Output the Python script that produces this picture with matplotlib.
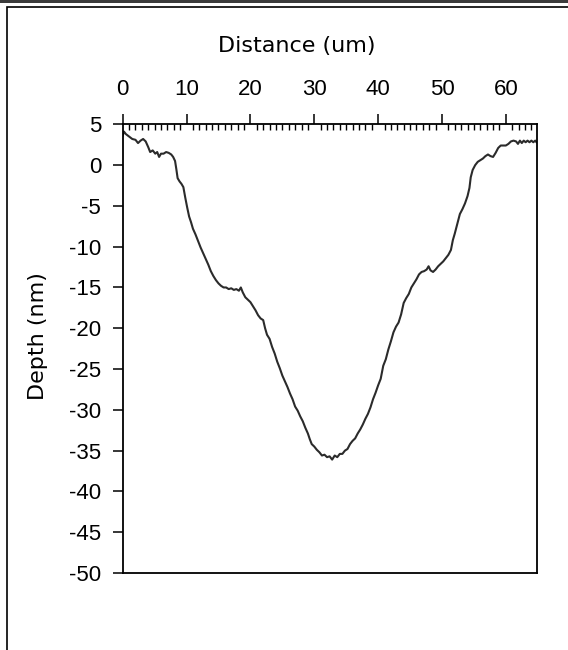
import matplotlib
matplotlib.use("Agg")
import matplotlib.pyplot as plt
from matplotlib.ticker import MultipleLocator
from matplotlib.patches import Rectangle

distance_um = [
    0.0, 0.2, 0.5, 1.0, 1.5, 2.0, 2.4, 2.8, 3.2, 3.6, 4.0, 4.3, 4.7, 5.1, 5.4, 5.7,
    6.0, 6.4, 6.8, 7.2, 7.6, 7.9, 8.2, 8.4, 8.6, 8.9, 9.2, 9.5, 9.8, 10.1, 10.4,
    10.7, 11.0, 11.4, 11.8, 12.2, 12.6, 13.0, 13.4, 13.8, 14.2, 14.6, 15.0, 15.4,
    15.8, 16.2, 16.6, 17.0, 17.4, 17.8, 18.2, 18.5, 18.8, 19.2, 19.6, 20.0, 20.4,
    20.8, 21.2, 21.6, 22.0, 22.3, 22.6, 23.0, 23.4, 23.8, 24.2, 24.6, 25.0, 25.4,
    25.8, 26.2, 26.6, 27.0, 27.4, 27.8, 28.2, 28.6, 29.0, 29.3, 29.6, 30.0, 30.4,
    30.8, 31.2, 31.6, 32.0, 32.4, 32.8, 33.2, 33.6, 34.0, 34.4, 34.8, 35.2, 35.6,
    36.0, 36.4, 36.8, 37.2, 37.6, 38.0, 38.4, 38.8, 39.2, 39.6, 40.0, 40.4, 40.8,
    41.2, 41.6, 42.0, 42.4, 42.8, 43.2, 43.6, 44.0, 44.4, 44.8, 45.2, 45.6, 46.0,
    46.4, 46.8, 47.2, 47.6, 47.9, 48.2, 48.6, 49.0, 49.4, 49.8, 50.2, 50.6, 51.0,
    51.4, 51.7, 52.0, 52.4, 52.8, 53.2, 53.6, 54.0, 54.3, 54.5, 54.8, 55.2, 55.6,
    56.0, 56.4, 56.8, 57.2, 57.6, 58.0, 58.4, 58.8, 59.2, 59.6, 60.0, 60.4, 60.8,
    61.2, 61.6, 61.9, 62.2, 62.5, 62.8, 63.1, 63.4, 63.7, 64.0, 64.3, 64.6, 64.8,
]
depth_nm = [
    3.6, 4.1, 3.8, 3.5, 3.2, 3.1, 2.7, 3.0, 3.2, 2.9, 2.2, 1.6, 1.8, 1.4, 1.6, 1.0,
    1.4, 1.4, 1.6, 1.5, 1.3, 1.0, 0.5, -0.5, -1.6, -2.0, -2.3, -2.7, -4.0, -5.2, -6.3,
    -7.0, -7.8, -8.5, -9.3, -10.1, -10.8, -11.5, -12.2, -13.0, -13.6, -14.1, -14.5, -14.8,
    -15.0, -15.0, -15.2, -15.1, -15.3, -15.2, -15.4, -15.0, -15.6, -16.2, -16.5, -16.8, -17.3,
    -17.8, -18.4, -18.8, -19.0, -20.0, -20.8, -21.3, -22.3, -23.1, -24.1, -24.9, -25.8, -26.5,
    -27.2, -28.0, -28.7, -29.6, -30.1, -30.8, -31.4, -32.2, -32.9, -33.6, -34.2, -34.5, -34.9,
    -35.2, -35.6, -35.5, -35.8, -35.7, -36.1, -35.6, -35.8, -35.4, -35.4, -35.0, -34.8, -34.2,
    -33.8, -33.5, -32.9, -32.4, -31.8, -31.1, -30.5, -29.7, -28.7, -27.9, -27.0, -26.2, -24.6,
    -23.8, -22.6, -21.6, -20.5, -19.8, -19.3, -18.3, -16.9, -16.3, -15.8, -15.0, -14.5, -14.0,
    -13.4, -13.1, -13.0, -12.8, -12.4, -12.9, -13.1, -12.8, -12.4, -12.1, -11.8, -11.4, -11.0,
    -10.4, -9.2, -8.4, -7.2, -6.0, -5.4, -4.7, -3.8, -2.8, -1.5, -0.6, 0.0, 0.4,
    0.6, 0.8, 1.1, 1.3, 1.1, 1.0, 1.5, 2.1, 2.4, 2.4, 2.4, 2.6, 2.9,
    3.0, 2.9, 2.6, 3.0, 2.7, 3.0, 2.8, 3.0, 2.8, 3.0, 2.8, 3.0, 2.8,
]
x_ticks = [0, 10, 20, 30, 40, 50, 60]
y_ticks = [5, 0, -5, -10, -15, -20, -25, -30, -35, -40, -45, -50]
x_label = "Distance (um)"
y_label = "Depth (nm)"

plt.rcParams["font.family"] = ["Liberation Sans", "DejaVu Sans"]

fig = plt.figure(figsize=(5.68, 6.5), dpi=100)
fig.patch.set_facecolor("white")

# outer frame and dark strip at top
fig.patches.append(Rectangle((6.5 / 568, -0.1), 1.2, 1.1 - 7 / 650, transform=fig.transFigure,
                             fill=False, edgecolor="black", linewidth=1.2))
fig.patches.append(Rectangle((0, 1 - 3 / 650), 1, 3 / 650, transform=fig.transFigure,
                             facecolor="#3c3c3c", edgecolor="none"))

ax = fig.add_axes([122.7 / 568, 1 - 573 / 650, (536.5 - 122.7) / 568, (573 - 124.3) / 650])
ax.plot(distance_um, depth_nm, color="#2b2b2b", linewidth=1.5)

ax.set_xlim(0, 64.8)
ax.set_ylim(-50, 5)
ax.xaxis.tick_top()
ax.set_xticks(x_ticks)
ax.set_yticks(y_ticks)
ax.set_xticklabels([str(t) for t in x_ticks])
ax.set_yticklabels([str(t) for t in y_ticks])
ax.xaxis.set_minor_locator(MultipleLocator(1))

ax.tick_params(axis="x", which="major", direction="out", length=7.5, width=1.1, pad=10,
               top=True, bottom=False, labelsize=16)
ax.tick_params(axis="x", which="minor", direction="in", length=4, width=1.0, top=True, bottom=False)
ax.tick_params(axis="y", which="major", direction="out", length=7.5, width=1.1, pad=8, labelsize=16)

for s in ax.spines.values():
    s.set_linewidth(1.3)
    s.set_color("black")

fig.text(297 / 568, 1 - 46 / 650, x_label, ha="center", va="center",
         fontsize=16, family="DejaVu Sans")
fig.text(38 / 568, 1 - 336 / 650, y_label, ha="center", va="center",
         rotation=90, fontsize=16, family="DejaVu Sans")

fig.savefig("out.png", dpi=100)
